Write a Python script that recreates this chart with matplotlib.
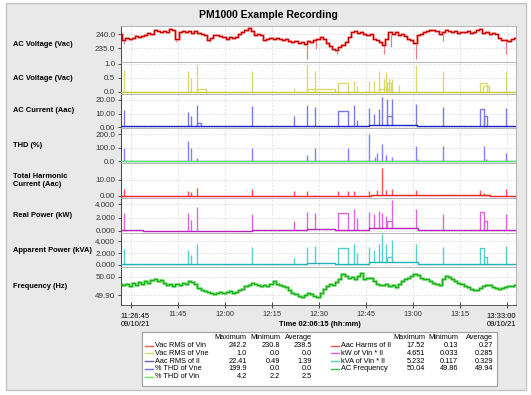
import numpy as np
import matplotlib as mpl
mpl.use("Agg")
import matplotlib.pyplot as plt
from matplotlib.patches import Rectangle

plt.rcParams['font.family'] = ['Liberation Sans', 'DejaVu Sans']

# -- time axis: minutes after 11:26:45 --
t_end = 126.25
tick_minutes = [3.25, 18.25, 33.25, 48.25, 63.25, 78.25, 93.25, 108.25, 123.25]
tick_labels = ["", "11:45", "12:00", "12:15", "12:30", "12:45", "13:00", "13:15", ""]
start_label = "11:26:45\n09/10/21"
end_label = "13:33:00\n09/10/21"

# -- AC voltage (Vin), one reading per minute --
vac = [240.0, 238.0, 238.5, 238.3, 238.6, 239.2, 238.8, 239.3, 239.8, 240.3,
       240.0, 241.4, 241.2, 240.8, 241.0, 240.6, 242.0, 241.5, 238.4, 240.8,
       241.2, 240.9, 241.0, 240.5, 241.1, 240.4, 240.0, 239.6, 237.8, 238.5,
       239.5, 239.8, 239.2, 238.8, 238.4, 238.9, 238.5, 239.0, 240.2, 240.6,
       241.5, 242.1, 241.0, 239.5, 240.2, 239.6, 237.8, 238.2, 238.6, 238.3,
       238.7, 238.2, 237.9, 238.1, 237.6, 237.0, 237.4, 236.8, 237.2, 236.3,
       237.6, 237.0, 237.8, 238.3, 238.9, 238.1, 236.8, 235.9, 234.8, 234.3,
       235.5, 236.2, 237.0, 239.0, 240.6, 241.0, 240.5, 240.9, 240.2, 239.8,
       240.0, 238.4, 238.0, 237.0, 236.0, 238.4, 240.8, 240.2, 240.6, 239.6,
       239.9, 239.2, 238.4, 238.0, 236.9, 239.5, 240.2, 240.6, 241.2, 241.5,
       241.3, 241.0, 240.2, 240.6, 241.4, 241.0, 240.7, 241.2, 240.3, 240.8,
       240.9, 241.1, 240.4, 240.6, 241.3, 241.8, 240.4, 240.8, 240.2, 240.5,
       240.0, 238.5, 237.8, 238.0, 237.6, 238.4, 238.7]
vac_dip_t = [0.9, 17.6, 28.4, 59.6, 62.5, 69.0, 84.1, 86.3, 94.2, 103.0, 123.1]
vac_dip_v = [236.5, 237.0, 237.0, 231.0, 234.5, 233.0, 232.7, 235.5, 231.2, 237.5, 233.0]

# -- AC frequency, one reading per minute --
freq = [49.960, 49.955, 49.962, 49.950, 49.965, 49.958, 49.970, 49.962, 49.975, 49.968,
        49.980, 49.988, 49.975, 49.982, 49.965, 49.958, 49.962, 49.950, 49.960, 49.955,
        49.968, 49.962, 49.975, 49.970, 49.960, 49.940, 49.930, 49.922, 49.918, 49.915,
        49.905, 49.912, 49.920, 49.910, 49.918, 49.925, 49.915, 49.920, 49.928, 49.935,
        49.950, 49.958, 49.965, 49.962, 49.958, 49.950, 49.955, 49.948, 49.960, 49.975,
        49.962, 49.955, 49.948, 49.942, 49.930, 49.915, 49.905, 49.898, 49.892, 49.900,
        49.910, 49.905, 49.895, 49.890, 49.915, 49.935, 49.950, 49.960, 49.955, 49.970,
        49.985, 50.015, 50.005, 49.995, 50.000, 49.990, 50.002, 50.020, 49.990, 49.995,
        49.995, 49.975, 49.962, 49.958, 49.955, 49.960, 49.950, 49.958, 49.945, 49.960,
        49.975, 49.985, 49.995, 50.005, 50.012, 50.010, 49.995, 49.985, 49.990, 49.978,
        49.965, 49.962, 49.958, 49.985, 50.005, 50.000, 49.990, 49.975, 49.965, 49.960,
        49.950, 49.942, 49.935, 49.930, 49.928, 49.940, 49.950, 49.958, 49.955, 49.945,
        49.940, 49.935, 49.938, 49.945, 49.952, 49.950, 49.955]

# -- Vac RMS of Vne --
vne_base_t = [0, t_end]
vne_base_v = [0.0]
vne_spike_t = [1.2, 21.6, 22.3, 24.5, 41.9, 55.5, 59.5, 62.2, 74.6, 75.5, 79.2,
               80.9, 82.5, 84.1, 84.6, 85.7, 86.5, 89.0, 94.4, 102.8, 123.2]
vne_spike_h = [0.8, 0.75, 0.5, 1.0, 0.75, 0.15, 1.0, 0.75, 0.4, 0.2, 0.4,
               0.4, 0.75, 0.45, 0.7, 0.5, 0.45, 0.25, 0.95, 0.75, 0.75]
vne_plateaus = [(24.5, 27.3, 0.1), (59.5, 68.4, 0.1), (69.5, 72.5, 0.3),
                (82.5, 86.5, 0.1), (85.0, 86.3, 0.3), (114.9, 117.1, 0.3), (115.8, 117.5, 0.2)]

# -- Aac RMS of Il --
cur_base_t = [0, 59.5, 68.4, 79.2, 94.5, t_end]
cur_base_v = [0.5, 1.0, 0.6, 1.3, 0.6]
cur_spike_t = [1.2, 21.6, 22.3, 24.5, 41.9, 55.5, 59.5, 62.2, 74.6, 75.5, 79.2,
               80.9, 82.5, 83.6, 85.1, 86.5, 94.4, 102.8, 123.2]
cur_spike_h = [12.5, 11.0, 8.0, 16.5, 15.5, 8.0, 16.0, 15.0, 16.0, 5.0, 14.0,
               10.0, 13.0, 22.4, 21.0, 20.5, 17.0, 15.0, 14.0]
cur_plateaus = [(24.5, 25.5, 3.0), (69.5, 72.5, 12.0), (85.0, 86.5, 8.0),
                (114.9, 116.0, 13.0), (116.0, 117.1, 8.0)]

# -- % THD of Vne / Vin --
thd_spike_t = [1.2, 21.6, 22.3, 24.5, 41.9, 59.5, 62.2, 72.5, 79.2, 81.3, 82.0,
               83.6, 84.8, 86.5, 94.4, 95.1, 102.8, 116.0, 116.7, 123.2]
thd_spike_h = [100, 150, 100, 25, 100, 50, 100, 100, 199.9, 30, 60,
               130, 50, 30, 110, 20, 110, 110, 20, 60]
thd_vin_t = [0, 30, 60, 90, t_end]
thd_vin_v = [2.5, 2.4, 2.6, 2.5]

# -- Aac Harms of Il --
thc_base_t = [0, 80, 118, t_end]
thc_base_v = [0.2, 0.4, 0.2]
thc_spike_t = [1.2, 21.6, 22.3, 24.5, 41.9, 55.5, 59.5, 62.2, 69.5, 72.5, 74.6,
               79.2, 82.0, 83.6, 84.6, 86.5, 94.4, 114.9, 116.0, 123.2]
thc_spike_h = [4.2, 3.0, 2.5, 4.8, 4.2, 3.0, 3.0, 0.8, 3.0, 3.0, 3.3,
               3.0, 4.0, 17.5, 4.0, 4.2, 3.5, 3.5, 2.0, 4.4]
thc_plateaus = [(115.0, 117.5, 0.9)]

# -- kW of Vin * Il --
kw_base_t = [0, 7, 41.9, 59.5, 68.4, 79.2, 95, t_end]
kw_base_v = [0.1, 0.05, 0.1, 0.3, 0.15, 0.45, 0.15]
kw_spike_t = [1.2, 21.6, 22.3, 24.5, 41.9, 55.5, 59.5, 62.2, 74.6, 75.5, 79.2,
              80.9, 82.5, 83.6, 84.6, 86.5, 94.4, 102.8, 123.2]
kw_spike_h = [2.7, 2.6, 1.7, 3.5, 2.5, 1.5, 2.8, 2.6, 3.2, 2.0, 2.8,
              2.5, 3.0, 2.7, 2.2, 4.65, 3.2, 2.5, 2.5]
kw_plateaus = [(69.5, 72.5, 2.7), (85.0, 86.5, 1.5), (114.9, 116.0, 2.8), (116.0, 117.1, 1.5)]

# -- kVA of Vin * Il --
kva_base_t = [0, 7, 41.9, 59.5, 68.4, 79.2, 95, t_end]
kva_base_v = [0.15, 0.1, 0.15, 0.35, 0.2, 0.5, 0.2]
kva_spike_t = [1.2, 21.6, 22.3, 24.5, 41.9, 55.5, 59.5, 62.2, 74.6, 75.5, 79.2,
               80.9, 82.5, 83.6, 84.6, 86.5, 94.4, 102.8, 123.2]
kva_spike_h = [2.7, 2.5, 1.7, 3.5, 3.0, 1.2, 3.0, 3.2, 3.5, 2.0, 3.0,
               2.5, 3.5, 5.23, 3.5, 4.3, 3.5, 3.0, 3.2]
kva_plateaus = [(69.5, 72.5, 2.8), (85.0, 86.5, 1.3), (114.9, 116.0, 2.8), (116.0, 117.1, 1.3)]

# -- panel labels / axes --
panel_labels = ["AC Voltage (Vac)", "AC Voltage (Vac)", "AC Current (Aac)", "THD (%)",
                "Total Harmonic\nCurrent (Aac)", "Real Power (kW)", "Apparent Power (kVA)",
                "Frequency (Hz)"]
panel_ylims = [(230.0, 242.9), (-0.08, 1.07), (-0.7, 24.4), (-12, 246),
               (-1.25, 20.6), (-0.3, 4.9), (-0.34, 5.4), (49.848, 50.052)]
panel_yticks = [[235, 240], [0, 0.5, 1.0], [0, 10, 20], [0, 100, 200],
                [0, 10], [0, 2, 4], [0, 2, 4], [49.9, 50.0]]
panel_fmt = ["%.1f", "%.1f", "%.2f", "%.1f", "%.2f", "%.3f", "%.3f", "%.2f"]

# -- summary table --
leg_left_names = ["Vac RMS of Vin", "Vac RMS of Vne", "Aac RMS of Il", "% THD of Vne", "% THD of Vin"]
leg_left_max = ["242.2", "1.0", "22.41", "199.9", "4.2"]
leg_left_min = ["230.8", "0.0", "0.49", "0.0", "2.2"]
leg_left_avg = ["238.5", "0.0", "1.39", "0.0", "2.5"]
leg_right_names = ["Aac Harms of Il", "kW of Vin * Il", "kVA of Vin * Il", "AC Frequency"]
leg_right_max = ["17.52", "4.651", "5.232", "50.04"]
leg_right_min = ["0.13", "0.033", "0.117", "49.86"]
leg_right_avg = ["0.27", "0.285", "0.329", "49.94"]


W, H = 531, 395


def fx(x):
    return x / W


def fy(y):
    return 1 - y / H


def base_at(base_t, base_v, t):
    i = np.searchsorted(np.array(base_t), t, side='right') - 1
    return base_v[max(0, min(i, len(base_v) - 1))]


def draw_events(ax, base_t, base_v, spike_t, spike_h, plateaus, c_base, c_spike):
    ax.step(base_t, base_v + [base_v[-1]], where='post', color=c_base, lw=1.0, zorder=3)
    for t, h in zip(spike_t, spike_h):
        b = base_at(base_t, base_v, t)
        ax.vlines(t, b, h, color=c_spike, lw=1.0, zorder=2)
    for t0, t1, h in plateaus:
        b = base_at(base_t, base_v, t0)
        ax.plot([t0, t0, t1, t1], [b, h, h, b], color=c_spike, lw=1.0, zorder=2)


def main():
    fig = plt.figure(figsize=(W / 100, H / 100), dpi=100, facecolor='white')

    # -- grey background panel --
    fig.patches.append(Rectangle((fx(6), fy(390)), fx(520), (390 - 3) / H,
                                 transform=fig.transFigure, facecolor='#e9e9e9',
                                 edgecolor='#c4c4c4', lw=1.0, zorder=-10))

    fig.text(fx(268), fy(15), "PM1000 Example Recording", ha='center', va='center',
             fontsize=7.5, fontweight='bold')

    edges = [26, 62, 94, 128, 163, 198, 233, 267, 305]
    minutes = np.arange(len(vac))
    axes = []
    for k in range(8):
        top, bot = edges[k], edges[k + 1]
        ax = fig.add_axes([fx(120.7), fy(bot), fx(516) - fx(120.7), (bot - top) / H])
        ax.set_facecolor('white')
        ax.set_xlim(0, t_end)
        ax.set_ylim(*panel_ylims[k])
        ax.set_yticks(panel_yticks[k])
        ax.set_yticklabels([panel_fmt[k] % v for v in panel_yticks[k]], fontsize=5.8)
        ax.set_xticks(tick_minutes)
        ax.grid(True, color='#c8c8c8', ls=(0, (1, 2)), lw=0.6)
        ax.tick_params(axis='y', direction='out', length=2.5, width=0.6, pad=1.5, colors='#333333')
        ax.tick_params(axis='x', direction='inout', length=4, width=0.6, colors='#333333')
        for s in ['top', 'right']:
            ax.spines[s].set_color('#a8a8a8')
            ax.spines[s].set_linewidth(0.6)
        ax.spines['left'].set_color('#444444')
        ax.spines['left'].set_linewidth(0.7)
        ax.spines['bottom'].set_color('#a8a8a8' if k < 7 else '#444444')
        ax.spines['bottom'].set_linewidth(0.6)
        if k < 7:
            ax.tick_params(axis='x', length=0, labelbottom=False)
        fig.text(fx(13), fy((top + bot) / 2), panel_labels[k], ha='left', va='center',
                 fontsize=5.4, fontweight='bold', linespacing=1.3)
        axes.append(ax)

    # -- AC voltage --
    ax = axes[0]
    for t, v in zip(vac_dip_t, vac_dip_v):
        ax.vlines(t, v, vac[int(round(t))], color='#e88080', lw=0.9)
    ax.step(minutes, vac, where='mid', color='#f0a0a0', lw=2.0, zorder=2)
    ax.step(minutes, vac, where='mid', color='#cc0000', lw=0.9, zorder=3)

    draw_events(axes[1], vne_base_t, vne_base_v, vne_spike_t, vne_spike_h, vne_plateaus,
                '#c8c830', '#d8d870')
    draw_events(axes[2], cur_base_t, cur_base_v, cur_spike_t, cur_spike_h, cur_plateaus,
                '#2020cc', '#7a7ae6')
    draw_events(axes[3], [0, t_end], [0.0], thd_spike_t, thd_spike_h, [], '#7777ff', '#8080ff')
    axes[3].step(thd_vin_t, thd_vin_v + [thd_vin_v[-1]], where='post', color='#55ee55', lw=1.0, zorder=4)
    draw_events(axes[4], thc_base_t, thc_base_v, thc_spike_t, thc_spike_h, thc_plateaus,
                '#ee2222', '#ff5050')
    draw_events(axes[5], kw_base_t, kw_base_v, kw_spike_t, kw_spike_h, kw_plateaus,
                '#bb22bb', '#dd66dd')
    draw_events(axes[6], kva_base_t, kva_base_v, kva_spike_t, kva_spike_h, kva_plateaus,
                '#22b4b4', '#55d0d0')

    # -- frequency --
    ax = axes[7]
    ax.step(minutes, freq, where='mid', color='#90e090', lw=2.2, zorder=2)
    ax.step(minutes, freq, where='mid', color='#18b018', lw=0.9, zorder=3)
    ax.set_xticklabels(tick_labels, fontsize=5.5)
    ax.tick_params(axis='x', pad=2)
    ax.text(0, -0.22, start_label, transform=ax.transAxes, ha='left', va='top', fontsize=5.5,
            linespacing=1.15)
    ax.text(1, -0.22, end_label, transform=ax.transAxes, ha='right', va='top', fontsize=5.5,
            linespacing=1.15)
    fig.text(fx(320), fy(324), "Time 02:06:15 (hh:mm)", ha='center', va='center',
             fontsize=5.4, fontweight='bold')

    # -- summary table --
    fig.patches.append(Rectangle((fx(141.7), fy(386)), fx(355), (386 - 332.3) / H,
                                 transform=fig.transFigure, facecolor='white',
                                 edgecolor='#a0a0a0', lw=0.8, zorder=1))
    fs = 5.3
    for xr, hdr in zip([246.7, 280, 312], ["Maximum", "Minimum", "Average"]):
        fig.text(fx(xr), fy(337.7), hdr, ha='right', va='center', fontsize=fs)
    for xr, hdr in zip([425, 458, 493], ["Maximum", "Minimum", "Average"]):
        fig.text(fx(xr), fy(337.7), hdr, ha='right', va='center', fontsize=fs)
    left_cols = ['#ff5555', '#d8d870', '#6060c0', '#6f6fff', '#66ee66']
    right_cols = ['#ff5050', '#dd66dd', '#55cccc', '#44bb44']
    for i in range(len(leg_left_names)):
        y = fy(345.7 + 7.7 * i)
        fig.add_artist(plt.Line2D([fx(145), fx(152.7)], [y, y], color=left_cols[i], lw=1.0))
        fig.text(fx(155), y, leg_left_names[i], ha='left', va='center', fontsize=fs)
        fig.text(fx(246.7), y, leg_left_max[i], ha='right', va='center', fontsize=fs)
        fig.text(fx(280), y, leg_left_min[i], ha='right', va='center', fontsize=fs)
        fig.text(fx(312), y, leg_left_avg[i], ha='right', va='center', fontsize=fs)
    for i in range(len(leg_right_names)):
        y = fy(345.7 + 7.7 * i)
        fig.add_artist(plt.Line2D([fx(331), fx(338.7)], [y, y], color=right_cols[i], lw=1.0))
        fig.text(fx(341.3), y, leg_right_names[i], ha='left', va='center', fontsize=fs)
        fig.text(fx(425), y, leg_right_max[i], ha='right', va='center', fontsize=fs)
        fig.text(fx(458), y, leg_right_min[i], ha='right', va='center', fontsize=fs)
        fig.text(fx(493), y, leg_right_avg[i], ha='right', va='center', fontsize=fs)

    plt.savefig("out.png", dpi=100)


if __name__ == "__main__":
    main()
